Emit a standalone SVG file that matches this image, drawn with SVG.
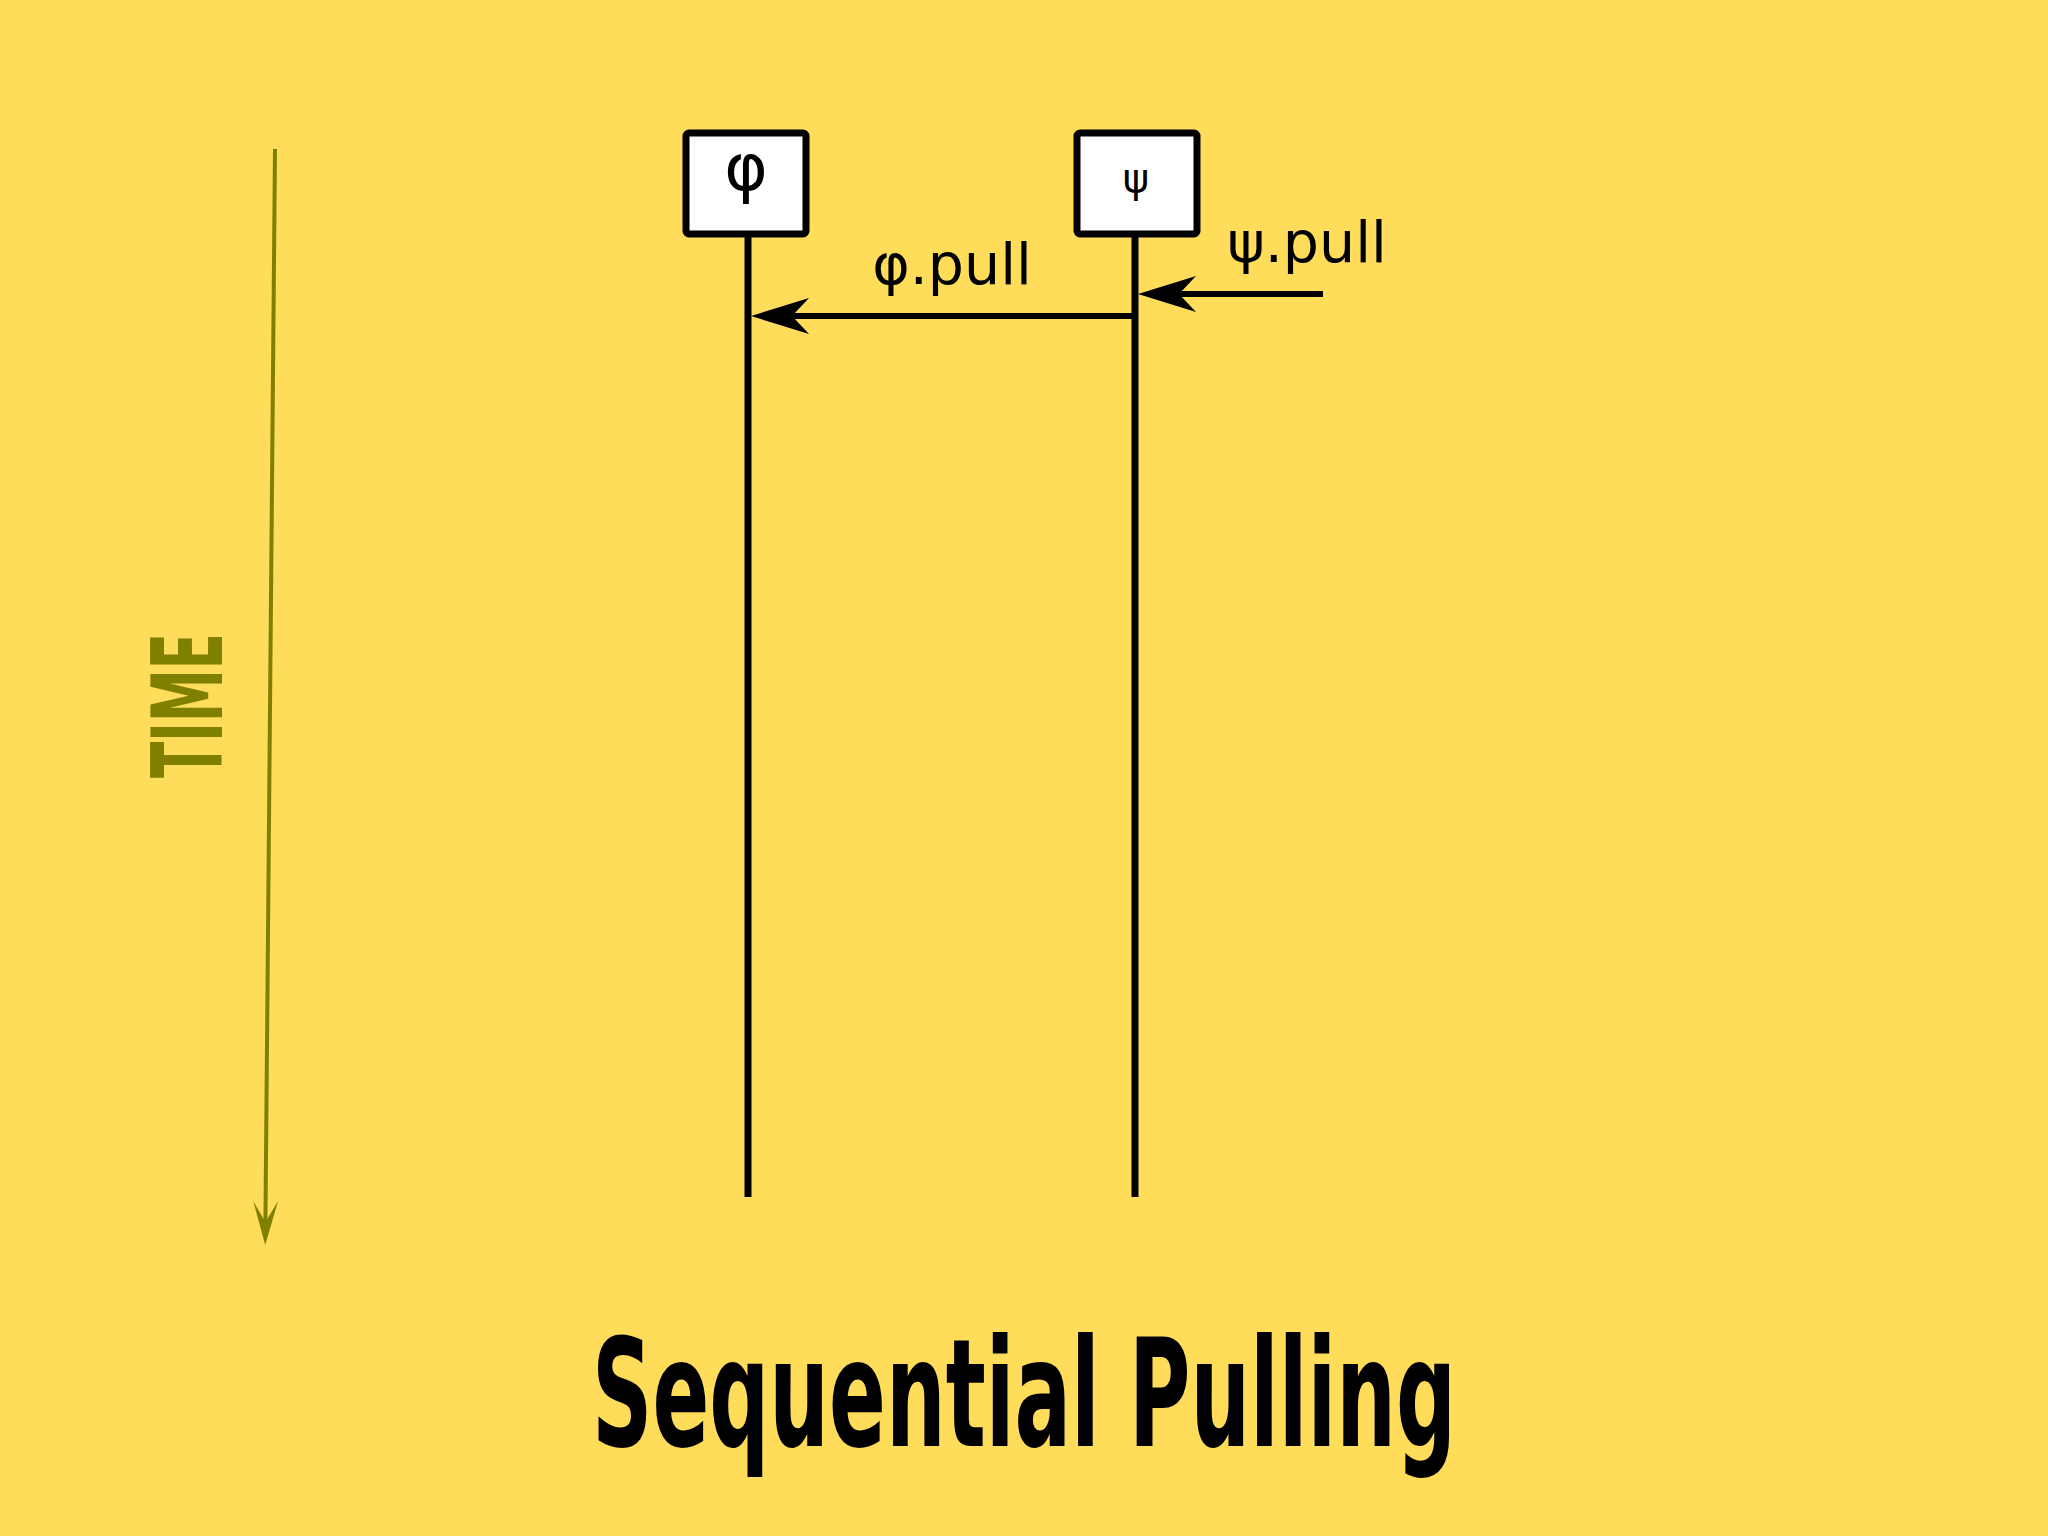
<svg xmlns="http://www.w3.org/2000/svg" width="2048" height="1536" viewBox="0 0 2048 1536">
  <style>
    .box { fill: #ffffff; stroke: #000000; stroke-width: 7; }
    .life { stroke: #000000; stroke-width: 7; fill: none; }
    .msg { stroke: #000000; stroke-width: 6; fill: none; }
    .lbl { font-family: "DejaVu Sans", "Liberation Sans", sans-serif; fill: #000000; }
    .time { font-family: "Liberation Sans Narrow", "DejaVu Sans Condensed", "Liberation Sans", sans-serif; font-weight: bold; fill: #808000; }
    .title { font-family: "Liberation Sans Narrow", "DejaVu Sans Condensed", "Liberation Sans", sans-serif; font-weight: bold; fill: #000000; }
  </style>
  <defs>
    <marker id="ah" markerUnits="userSpaceOnUse" markerWidth="60" markerHeight="40" viewBox="0 0 60 40" refX="38" refY="20" orient="auto">
      <path d="M0,2 L58,20 L0,38 L17,20 Z" fill="#000000"/>
    </marker>
    <marker id="ahTime" markerUnits="userSpaceOnUse" markerWidth="46" markerHeight="28" viewBox="0 0 46 28" refX="24" refY="14" orient="auto">
      <path d="M0,1.5 L44,14 L0,26.5 L21,14 Z" fill="#808000"/>
    </marker>
  </defs>
  <rect x="0" y="0" width="2048" height="1536" fill="#FFDC5A"/>

  <g id="time-axis">
    <line x1="275" y1="149" x2="265.4" y2="1225" stroke="#808000" stroke-width="4" marker-end="url(#ahTime)"/>
    <text class="time" transform="translate(222,778) rotate(-90)" font-size="98" textLength="145" lengthAdjust="spacingAndGlyphs">TIME</text>
  </g>

  <g id="node-phi">
    <rect class="box" x="686" y="133" width="120" height="101" rx="3"/>
    <text class="lbl" x="746" y="190" font-size="66" text-anchor="middle">φ</text>
  </g>
  <g id="node-psi">
    <rect class="box" x="1077" y="133" width="120" height="101" rx="3"/>
    <text class="lbl" x="1136" y="192" font-size="40" text-anchor="middle">ψ</text>
  </g>

  <g id="connectors">
    <line class="life" x1="748" y1="236" x2="748" y2="1197"/>
    <line class="life" x1="1135" y1="236" x2="1135" y2="1197"/>
    <line class="msg" x1="1135" y1="316" x2="771" y2="316" marker-end="url(#ah)"/>
    <line class="msg" x1="1323" y1="294" x2="1158" y2="294" marker-end="url(#ah)"/>
    <text class="lbl" x="952" y="284" font-size="57" text-anchor="middle">φ.pull</text>
    <text class="lbl" x="1307" y="262" font-size="57" text-anchor="middle">ψ.pull</text>
  </g>

  <text class="title" x="592" y="1446" font-size="150" textLength="864" lengthAdjust="spacingAndGlyphs">Sequential Pulling</text>
</svg>
